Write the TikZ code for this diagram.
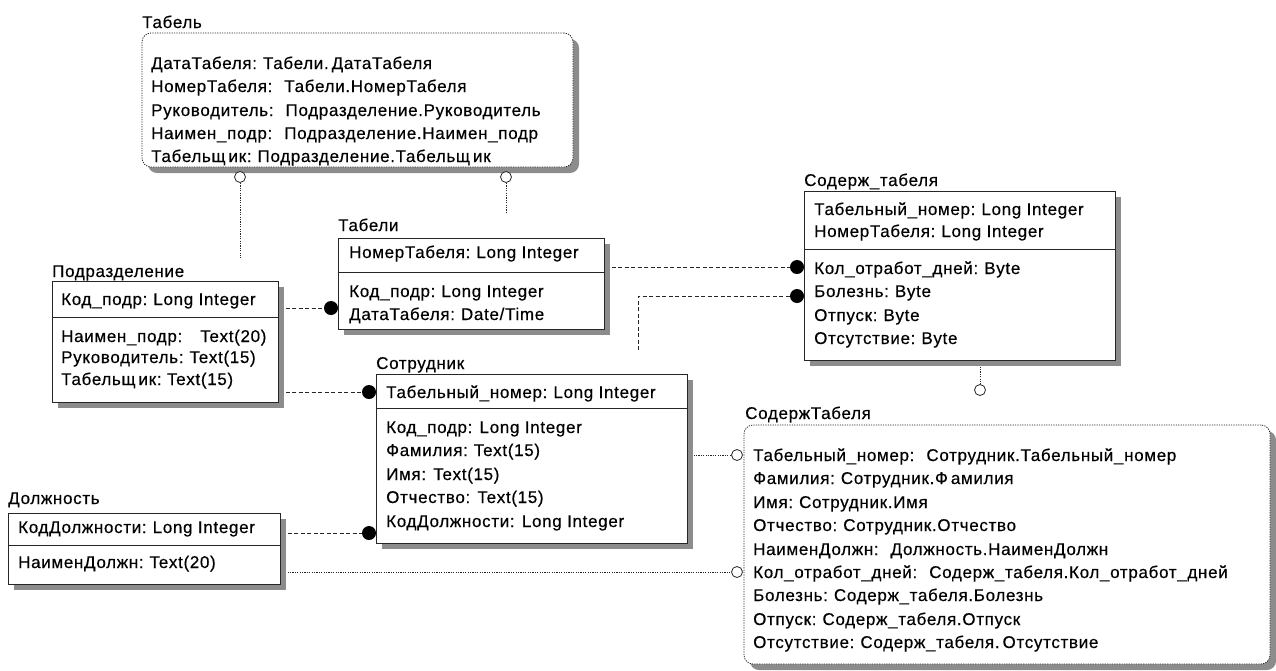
\documentclass[tikz,border=0pt]{standalone}
\usepackage{fontspec}
\setmainfont{Liberation Sans}[LetterSpace=4,FakeBold=0.4]
\usetikzlibrary{shadows,fit}
\newcommand\gp{\hspace{6pt}}
\newcommand\gk{\kern3pt}
\begin{document}
\begin{tikzpicture}[x=1pt,y=-1pt,
  font=\fontsize{17}{20}\selectfont,
  boxshadow/.style={drop shadow={shadow xshift=6pt,shadow yshift=-6pt,fill=black!45,opacity=1}},
  tbl/.style={draw=black!85,line width=1pt,fill=white,inner sep=0pt,boxshadow},
  view/.style={draw=black!85,line width=0.8pt,dash pattern=on 1.2pt off 1.2pt,rounded corners=9pt,fill=white,inner sep=0pt,boxshadow},
  divline/.style={draw=black!85,line width=1pt},
  fld/.style={anchor=base west,inner sep=0pt},
  ttl/.style={anchor=base west,inner sep=0pt},
  rel/.style={draw=black!85,line width=0.9pt,dash pattern=on 4pt off 2.5pt},
  lnk/.style={draw=black!85,line width=0.8pt,dash pattern=on 1.2pt off 1.2pt},
  fdot/.style={circle,fill=black,inner sep=0pt,minimum size=14pt},
  odot/.style={circle,draw=black!85,fill=white,line width=0.8pt,inner sep=0pt,minimum size=11pt}]
\useasboundingbox (0,0) rectangle (1276,670);

% ---------- Табель (query) ----------
\node[ttl] (tabel-t) at (142,28) {Табель};
\node[view,fit={(142,33) (573,167)}] (tabel) {};
\node[fld] (tabel-1) at (151,69) {ДатаТабеля:\gp Табели.\gk ДатаТабеля};
\node[fld] (tabel-2) at (151,92) {НомерТабеля:\gp\gp Табели.НомерТабеля};
\node[fld] (tabel-3) at (151,116) {Руководитель:\gp\gp Подразделение.Руководитель};
\node[fld] (tabel-4) at (151,139) {Наимен\_подр:\gp\gp Подразделение.Наимен\_подр};
\node[fld] (tabel-5) at (151,162) {Табельщ\gk ик:\gp Подразделение.Табельщ\gk ик};

% ---------- Табели ----------
\node[ttl] (tabeli-t) at (338,231) {Табели};
\node[tbl,fit={(338,238) (604,329)}] (tabeli) {};
\draw[divline] (tabeli.west |- 0,272) -- (tabeli.east |- 0,272);
\node[fld] (tabeli-1) at (349,258) {НомерТабеля:\gp Long Integer};
\node[fld] (tabeli-2) at (349,297) {Код\_подр:\gp Long Integer};
\node[fld] (tabeli-3) at (349,320) {ДатаТабеля:\gp Date/Time};

% ---------- Содерж_табеля ----------
\node[ttl] (sod-t) at (804,186) {Содерж\_табеля};
\node[tbl,fit={(804,191) (1115,360)}] (sod) {};
\draw[divline] (sod.west |- 0,249) -- (sod.east |- 0,249);
\node[fld] (sod-1) at (814,215) {Табельный\_номер:\gp Long Integer};
\node[fld] (sod-2) at (814,237) {НомерТабеля:\gp Long Integer};
\node[fld] (sod-3) at (814,274) {Кол\_отработ\_дней:\gp Byte};
\node[fld] (sod-4) at (814,297) {Болезнь:\gp Byte};
\node[fld] (sod-5) at (814,321) {Отпуск:\gp Byte};
\node[fld] (sod-6) at (814,344) {Отсутствие:\gp Byte};

% ---------- Подразделение ----------
\node[ttl] (podr-t) at (52,277) {Подразделение};
\node[tbl,fit={(52,281) (278,402)}] (podr) {};
\draw[divline] (podr.west |- 0,317) -- (podr.east |- 0,317);
\node[fld] (podr-1) at (61,305) {Код\_подр:\gp Long Integer};
\node[fld] (podr-2) at (61,342) {Наимен\_подр:\gp\gp\gp Text(20)};
\node[fld] (podr-3) at (61,363) {Руководитель:\gp Text(15)};
\node[fld] (podr-4) at (61,385) {Табельщ\gk ик:\ Text(15)};

% ---------- Сотрудник ----------
\node[ttl] (sotr-t) at (376,369) {Сотрудник};
\node[tbl,fit={(376,374) (687,543)}] (sotr) {};
\draw[divline] (sotr.west |- 0,408) -- (sotr.east |- 0,408);
\node[fld] (sotr-1) at (386,398) {Табельный\_номер:\gp Long Integer};
\node[fld] (sotr-2) at (386,433) {Код\_подр: Long Integer};
\node[fld] (sotr-3) at (386,456) {Фамилия:\gp Text(15)};
\node[fld] (sotr-4) at (386,480) {Имя: Text(15)};
\node[fld] (sotr-5) at (386,503) {Отчество: Text(15)};
\node[fld] (sotr-6) at (386,527) {КодДолжности: Long Integer};

% ---------- Должность ----------
\node[ttl] (dolzh-t) at (8,504) {Должность};
\node[tbl,fit={(8,513) (280,584)}] (dolzh) {};
\draw[divline] (dolzh.west |- 0,545) -- (dolzh.east |- 0,545);
\node[fld] (dolzh-1) at (18,533) {КодДолжности:\gp Long Integer};
\node[fld] (dolzh-2) at (18,568) {НаименДолжн:\gp Text(20)};

% ---------- СодержТабеля (query) ----------
\node[ttl] (sq-t) at (745,419) {СодержТабеля};
\node[view,fit={(744,425) (1270,664)}] (sq) {};
\node[fld] (sq-1) at (753,461) {Табельный\_номер:\gp\gp Сотрудник.Табельный\_номер};
\node[fld] (sq-2) at (753,484) {Фамилия:\gp Сотрудник.Ф\gk амилия};
\node[fld] (sq-3) at (753,508) {Имя:\gp Сотрудник.Имя};
\node[fld] (sq-4) at (753,531) {Отчество:\gp Сотрудник.Отчество};
\node[fld] (sq-5) at (753,555) {НаименДолжн:\gp\gp Должность.НаименДолжн};
\node[fld] (sq-6) at (753,578) {Кол\_отработ\_дней:\gp\gp Содерж\_табеля.Кол\_отработ\_дней};
\node[fld] (sq-7) at (753,601) {Болезнь:\gp Содерж\_табеля.Болезнь};
\node[fld] (sq-8) at (753,625) {Отпуск:\gp Содерж\_табеля.Отпуск};
\node[fld] (sq-9) at (753,648) {Отсутствие:\gp Содерж\_табеля.\gk Отсутствие};

% ---------- relationship ends ----------
\node[fdot] (d1) at (331,308) {};
\node[fdot] (d2) at (797,267) {};
\node[fdot] (d3) at (797,296) {};
\node[fdot] (d4) at (369,392) {};
\node[fdot] (d5) at (369,533) {};
\node[odot] (c1) at (240,177) {};
\node[odot] (c2) at (506,177) {};
\node[odot] (o1) at (737,455) {};
\node[odot] (o2) at (737,572) {};
\node[odot] (o3) at (980,390) {};
\coordinate (e1) at (240,258);
\coordinate (e2) at (506,213);
\coordinate (e3) at (638,350);

% table relationships (dashed)
\draw[rel] ([xshift=7pt]podr.east |- d1) -- (d1);
\draw[rel] ([xshift=7pt]tabeli.east |- d2) -- (d2);
\draw[rel] (e3) |- (d3);
\draw[rel] ([xshift=7pt]podr.east |- d4) -- (d4);
\draw[rel] ([xshift=7pt]dolzh.east |- d5) -- (d5);

% query links (dotted)
\draw[lnk] (c1) -- (e1);
\draw[lnk] (c2) -- (e2);
\draw[lnk] ([xshift=6pt]sotr.east |- o1) -- (o1);
\draw[lnk] ([xshift=7pt]dolzh.east |- o2) -- (o2);
\draw[lnk] ([yshift=-6pt]o3 |- sod.south) -- (o3);
\end{tikzpicture}
\end{document}
